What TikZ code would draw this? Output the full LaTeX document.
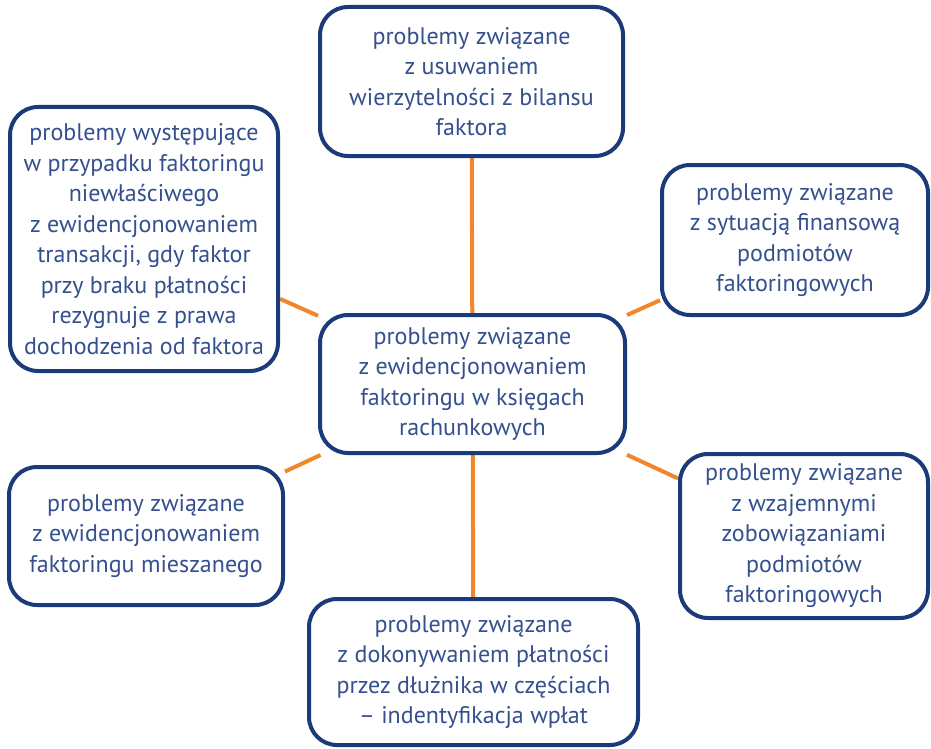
\documentclass[tikz,border=0pt]{standalone}
\usepackage{fontspec}
\setmainfont{PT Sans}
\usetikzlibrary{backgrounds}
\definecolor{boxblue}{HTML}{1B3A7A}
\definecolor{textblue}{HTML}{34508F}
\definecolor{lineorange}{HTML}{F2862A}
\tikzstyle{problem}=[draw=boxblue,line width=4pt,rounded corners=28pt,fill=white,align=center,text=textblue,font=\fontsize{24}{30.5}\selectfont,inner sep=0pt]
\tikzstyle{link}=[draw=lineorange,line width=4pt]

\begin{document}
\begin{tikzpicture}[x=1pt,y=-1pt]
    \useasboundingbox (0,0) rectangle (931,749);

    % boxes: position / name / width / height / text
    \foreach \pos/\name/\w/\h/\txt in {
        {(472.5,384)/c/305/138/{problemy związane\\z ewidencjonowaniem\\faktoringu w księgach\\rachunkowych}},
        {(471.5,81.5)/top/303/149/{problemy związane\\z usuwaniem\\wierzytelności z bilansu\\faktora}},
        {(144,239)/tl/268/264/{problemy występujące\\w przypadku faktoringu\\niewłaściwego\\z ewidencjonowaniem\\transakcji, gdy faktor\\przy braku płatności\\rezygnuje z prawa\\dochodzenia od faktora}},
        {(795,240)/tr/266/150/{problemy związane\\z sytuacją finansową\\podmiotów\\faktoringowych}},
        {(146,536)/bl/274/138/{problemy związane\\z ewidencjonowaniem\\faktoringu mieszanego}},
        {(804,536)/br/248/164/{problemy związane\\z wzajemnymi\\zobowiązaniami\\podmiotów\\faktoringowych}},
        {(473.5,672)/bot/329/146/{problemy związane\\z dokonywaniem płatności\\przez dłużnika w częściach\\– indentyfikacja wpłat}}}
        \node[problem,minimum width=\w pt,minimum height=\h pt] (\name) at \pos {\txt};

    % orange links from the centre box
    \begin{scope}[on background layer]
    \foreach \dest in {top,tl,tr,bl,br,bot}
        \path[link] (c) -- (\dest);
    \end{scope}

\end{tikzpicture}
\end{document}
